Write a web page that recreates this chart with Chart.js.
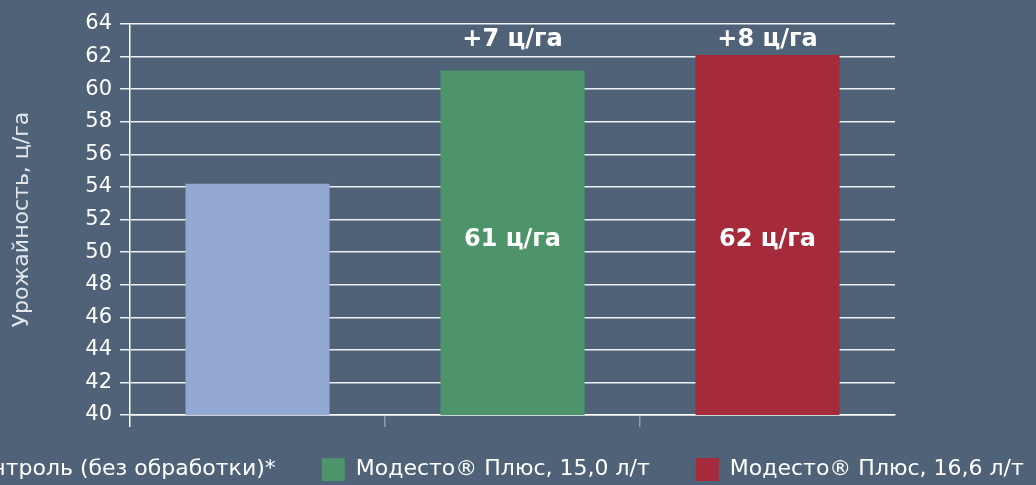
<!DOCTYPE html>
<html>
<head>
<meta charset="utf-8">
<script src="https://cdn.jsdelivr.net/npm/chart.js@4.4.1/dist/chart.umd.min.js"></script>
<style>
  html, body { margin: 0; padding: 0; background: #4f6278; overflow: hidden; }
  body { width: 1036px; height: 485px; position: relative; }
  /* canvas is wider than the window so the legend runs off the left edge like the original */
  #wrap { position: absolute; left: -134px; top: 0; width: 1220px; height: 506px; }
</style>
</head>
<body>
<div id="wrap"><canvas id="yieldChart"></canvas></div>
<script>
const categories = ['Контроль (без обработки)*', 'Модесто® Плюс, 15,0 л/т', 'Модесто® Плюс, 16,6 л/т'];
const yieldValues = [54.2, 61.15, 62.1];
const gainLabels = ['', '+7 ц/га', '+8 ц/га'];
const valueLabels = ['', '61 ц/га', '62 ц/га'];
const barColors = ['#93a8d2', '#4e946a', '#a52a3a'];
const yMin = 40;
const yMax = 64;
const yStep = 2;

Chart.defaults.font.family = '"DejaVu Sans", "Liberation Sans", Arial, sans-serif';

// text over the bars, placed on the value scale
const barLabels = {
  id: 'barLabels',
  afterDatasetsDraw(chart) {
    const ctx = chart.ctx;
    const y = chart.scales.y;
    ctx.save();
    ctx.fillStyle = '#ffffff';
    ctx.font = 'bold 24px "DejaVu Sans", "Liberation Sans", Arial, sans-serif';
    ctx.textAlign = 'center';
    ctx.textBaseline = 'alphabetic';
    categories.forEach((c, i) => {
      const bar = chart.getDatasetMeta(i).data[i];
      ctx.fillText(gainLabels[i], bar.x, y.getPixelForValue(62.62));
      ctx.fillText(valueLabels[i], bar.x, y.getPixelForValue(50.4));
    });
    ctx.restore();
  }
};

// pull the legend up a bit, its padding also sets the gap between items
const legendShift = {
  id: 'legendShift',
  afterLayout(chart) {
    chart.legend.top -= 15;
    chart.legend.bottom -= 15;
  }
};

const datasets = categories.map((name, i) => ({
  label: name,
  data: yieldValues.map((v, j) => (j === i ? v : null)),
  backgroundColor: barColors[i],
  grouped: false,
  categoryPercentage: 1,
  barPercentage: 0.565
}));

const ctx = document.getElementById('yieldChart').getContext('2d');
const yieldChart = new Chart(ctx, {
  type: 'bar',
  data: {
    labels: categories,
    datasets: datasets
  },
  options: {
    responsive: true,
    maintainAspectRatio: false,
    animation: false,
    layout: { padding: { top: 24 } },
    plugins: {
      legend: {
        position: 'bottom',
        labels: {
          color: '#ffffff',
          font: { size: 22 },
          boxWidth: 23,
          boxHeight: 23,
          padding: 46
        }
      },
      tooltip: { enabled: false }
    },
    scales: {
      x: {
        ticks: { display: false },
        grid: {
          drawOnChartArea: false,
          tickLength: 12,
          lineWidth: 1.5,
          color: c => (c.type !== 'tick' ? 'rgba(0,0,0,0)' : c.index === 0 ? '#ffffff' : '#8f9cab')
        },
        border: { color: '#ffffff', width: 1.5 }
      },
      y: {
        min: yMin,
        max: yMax,
        ticks: {
          stepSize: yStep,
          color: '#ffffff',
          font: { size: 21 },
          padding: 8
        },
        grid: { color: '#eef1f4', lineWidth: 1.5, tickLength: 10 },
        border: { color: '#ffffff', width: 1.5 },
        title: {
          display: true,
          text: 'Урожайность, ц/га',
          color: '#e3e7ec',
          font: { size: 22 },
          padding: { top: 143 }
        },
        afterFit: s => { s.width = 264; }
      },
      pad: {
        type: 'linear',
        axis: 'y',
        position: 'right',
        ticks: { display: false },
        grid: { display: false },
        border: { display: false },
        afterFit: s => { s.width = 191; }
      }
    }
  },
  plugins: [barLabels, legendShift]
});
</script>
</body>
</html>
